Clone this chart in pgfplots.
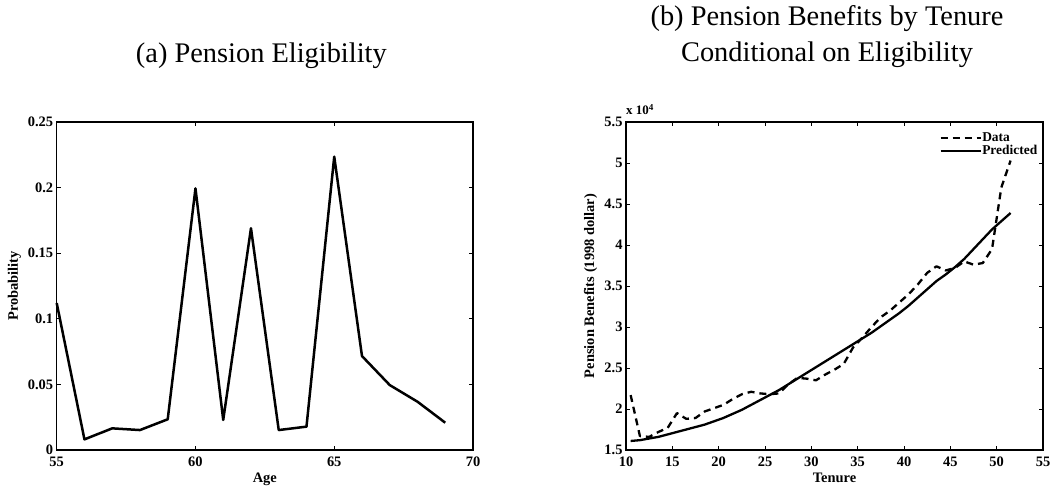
\documentclass[border=0pt]{standalone}
\usepackage{fontspec}
\setmainfont{Liberation Serif}
\usepackage{pgfplots}
\pgfplotsset{compat=1.18}
\newcommand{\tickfont}{\fontsize{14.5}{14.5}\selectfont\bfseries}
\newcommand{\titlefont}{\fontsize{28.5}{34}\selectfont}
\pgfplotsset{
  refstyle/.style={
    scale only axis, height=328bp, anchor=south west, clip=false,
    axis line style={line width=1.1bp},
    tick style={line width=0.9bp, black},
    major tick length=4.2bp,
    tick align=inside,
    scaled ticks=false,
    tick label style={font=\tickfont},
    xticklabel style={yshift=-3.5bp},
    every axis x label/.style={at={(axis description cs:0.5,-0.0976)}, anchor=base, font=\tickfont},
    every axis y label/.style={rotate=90, anchor=base, font=\tickfont},
  }
}
\begin{document}
\begin{tikzpicture}
\path[use as bounding box] (0bp,0bp) rectangle (1052bp,491bp);
\begin{axis}[refstyle,
  at={(56.7bp,41bp)}, width=416.3bp,
  xmin=55, xmax=70, ymin=0, ymax=0.25,
  xtick={55,60,65,70}, xticklabels={55,60,65,70},
  ytick={0,0.05,0.1,0.15,0.2,0.25}, yticklabels={0,0.05,0.1,0.15,0.2,0.25},
  xlabel={Age}, ylabel={Probability},
  ylabel style={at={(axis description cs:-0.093,0.5)}},
]
\addplot[black, line width=2.5bp, line join=round] coordinates {
(55,0.112) (56,0.0081) (57,0.0165) (58,0.0152) (59,0.0234) (60,0.1994)
(61,0.0229) (62,0.169) (63,0.0152) (64,0.0178) (65,0.2236) (66,0.0716)
(67,0.0495) (68,0.0368) (69,0.0208)};
\node[anchor=base, font=\titlefont, inner sep=0pt, xshift=-3.5bp, yshift=59bp] at (rel axis cs:0.5,1) {(a) Pension Eligibility};
\end{axis}
\begin{axis}[refstyle,
  at={(626bp,41bp)}, width=417bp,
  xmin=10, xmax=55, ymin=1.5, ymax=5.5,
  xtick={10,15,20,25,30,35,40,45,50,55}, xticklabels={10,15,20,25,30,35,40,45,50,55},
  ytick={1.5,2,2.5,3,3.5,4,4.5,5,5.5}, yticklabels={1.5,2,2.5,3,3.5,4,4.5,5,5.5},
  xlabel={Tenure}, ylabel={Pension Benefits (1998 dollar)},
  ylabel style={at={(axis description cs:-0.0767,0.5)}},
  legend style={at={(axis description cs:1,1)}, anchor=north east, xshift=-5bp, yshift=-9bp,
    draw=none, fill=none, font=\fontsize{13.5}{13.5}\selectfont\bfseries, inner sep=0pt,
    row sep=0pt, nodes={inner sep=0.5bp, text height=9.5bp, text depth=2.5bp}},
  legend cell align=left,
  legend image code/.code={\draw[#1] (0bp,0bp) -- (40bp,0bp);},
]
\addplot[black, line width=2.3bp, line join=round, dash pattern=on 7bp off 5bp] coordinates {
(10.5,2.17) (11.5,1.67) (12.5,1.66) (13.5,1.72) (14.5,1.77) (15.5,1.95)
(16.5,1.88) (17.5,1.89) (18.5,1.97) (19.5,2.01) (20.5,2.05) (21.5,2.12)
(22.5,2.18) (23.5,2.21) (24.5,2.19) (25.5,2.18) (26.5,2.19) (27.5,2.30)
(28.5,2.38) (29.5,2.37) (30.5,2.35) (31.5,2.42) (32.5,2.48) (33.5,2.55)
(34.5,2.75) (35.5,2.87) (36.5,3.00) (37.5,3.12) (38.5,3.20) (39.5,3.30)
(40.5,3.40) (41.5,3.52) (42.5,3.66) (43.5,3.74) (44.5,3.69) (45.5,3.72)
(46.5,3.80) (47.5,3.76) (48.5,3.78) (49.5,3.95) (50.5,4.70) (51.5,5.03)};
\addlegendentry{Data}
\addplot[black, line width=2.3bp, line join=round] coordinates {
(10.5,1.61) (11.5,1.62) (12.5,1.64) (13.5,1.66) (14.5,1.69) (15.5,1.72)
(16.5,1.75) (17.5,1.78) (18.5,1.81) (19.5,1.85) (20.5,1.89) (21.5,1.94)
(22.5,1.99) (23.5,2.05) (24.5,2.11) (25.5,2.17) (26.5,2.23) (27.5,2.30)
(28.5,2.37) (29.5,2.44) (30.5,2.51) (31.5,2.58) (32.5,2.65) (33.5,2.72)
(34.5,2.79) (35.5,2.86) (36.5,2.93) (37.5,3.01) (38.5,3.09) (39.5,3.17)
(40.5,3.26) (41.5,3.36) (42.5,3.46) (43.5,3.56) (44.5,3.64) (45.5,3.73)
(46.5,3.83) (47.5,3.95) (48.5,4.07) (49.5,4.19) (50.5,4.29) (51.5,4.39)};
\addlegendentry{Predicted}
\node[anchor=base west, font=\fontsize{13}{13}\selectfont\bfseries, inner sep=0pt, yshift=7bp] at (rel axis cs:0,1) {x 10\textsuperscript{4}};
\node[anchor=base, font=\titlefont, inner sep=0pt, xshift=-7.5bp, yshift=96bp] at (rel axis cs:0.5,1) {(b) Pension Benefits by Tenure};
\node[anchor=base, font=\titlefont, inner sep=0pt, xshift=-7.5bp, yshift=60bp] at (rel axis cs:0.5,1) {Conditional on Eligibility};
\end{axis}
\end{tikzpicture}
\end{document}
